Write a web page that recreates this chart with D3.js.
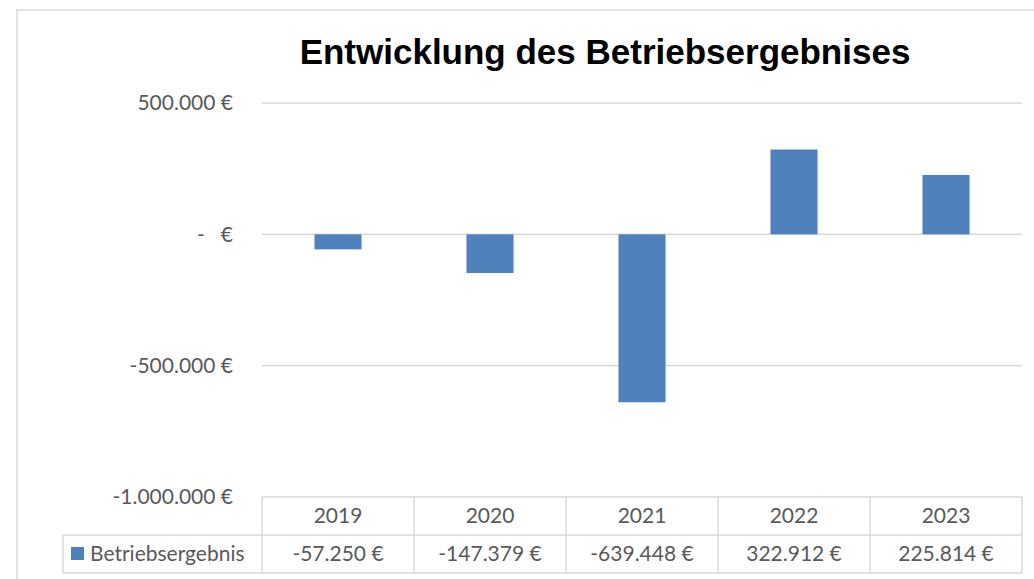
<!DOCTYPE html>
<html lang="de">
<head>
<meta charset="utf-8">
<title>Entwicklung des Betriebsergebnises</title>
<script src="https://cdn.jsdelivr.net/npm/d3@7"></script>
<style>
  body { margin: 0; background: #fff; }
  svg { display: block; }
</style>
</head>
<body>
<script>
// data
var years = ["2019", "2020", "2021", "2022", "2023"];
var values = [-57250, -147379, -639448, 322912, 225814];
var yTicks = [500000, 0, -500000, -1000000];
var seriesName = "Betriebsergebnis";

var width = 1034, height = 579;
var barColor = "#4f81bd";
var gridColor = "#d9d9d9";
var textColor = "#595959";
var font = "Lato, 'Noto Sans', sans-serif";
var fs = 21;

var de = d3.formatLocale({ decimal: ",", thousands: ".", grouping: [3], currency: ["", " €"], minus: "-" });
var fmt = de.format(",.0f");
function euro(v) { return v === 0 ? "-   €" : fmt(v) + " €"; }

var svg = d3.select("body").append("svg")
    .attr("width", width)
    .attr("height", height);

// outer chart border
svg.append("rect")
    .attr("x", 17).attr("y", 10)
    .attr("width", width).attr("height", height)
    .attr("fill", "none")
    .attr("stroke", gridColor)
    .attr("stroke-width", 1.5);

svg.append("text")
    .attr("x", 605).attr("y", 64)
    .attr("text-anchor", "middle")
    .attr("font-family", "'Liberation Sans', Arial, sans-serif")
    .attr("font-weight", "bold")
    .attr("font-size", 35)
    .attr("fill", "#000")
    .text("Entwicklung des Betriebsergebnises");

var x0 = 262, x1 = 1022;
var y = d3.scaleLinear().domain([-1000000, 500000]).range([497, 103]);
var xCell = d3.scaleBand().domain(years).range([x0, x1]);
var xBar = d3.scaleBand().domain(years).range([x0, x1]).paddingInner(0.69).paddingOuter(0.345);

// gridlines
svg.append("g").selectAll("line")
    .data(yTicks.filter(function (d) { return d !== -1000000; }))
    .join("line")
    .attr("x1", x0).attr("x2", x1)
    .attr("y1", function (d) { return y(d); })
    .attr("y2", function (d) { return y(d); })
    .attr("stroke", gridColor)
    .attr("stroke-width", 1.5);

// y labels
svg.append("g").selectAll("text")
    .data(yTicks)
    .join("text")
    .attr("x", 233)
    .attr("y", function (d) { return y(d); })
    .attr("dy", "0.35em")
    .attr("text-anchor", "end")
    .attr("font-family", font)
    .attr("font-size", fs)
    .attr("fill", textColor)
    .style("white-space", "pre")
    .text(function (d) { return euro(d); });

// bars
svg.append("g").selectAll("rect")
    .data(values)
    .join("rect")
    .attr("x", function (d, i) { return xBar(years[i]); })
    .attr("width", xBar.bandwidth())
    .attr("y", function (d) { return y(Math.max(0, d)); })
    .attr("height", function (d) { return Math.abs(y(d) - y(0)); })
    .attr("fill", barColor);

// data table
var rowTop = 497, rowMid = 535, rowBot = 573, legLeft = 63;
var tbl = svg.append("g")
    .attr("stroke", gridColor)
    .attr("stroke-width", 1.5)
    .attr("fill", "none");
tbl.append("line").attr("x1", x0).attr("x2", x1).attr("y1", rowTop).attr("y2", rowTop);
tbl.append("line").attr("x1", legLeft).attr("x2", x1).attr("y1", rowMid).attr("y2", rowMid);
tbl.append("line").attr("x1", legLeft).attr("x2", x1).attr("y1", rowBot).attr("y2", rowBot);
tbl.append("line").attr("x1", legLeft).attr("x2", legLeft).attr("y1", rowMid).attr("y2", rowBot);
tbl.selectAll("line.v")
    .data(years.concat(["end"]))
    .join("line")
    .attr("class", "v")
    .attr("x1", function (d) { return d === "end" ? x1 : xCell(d); })
    .attr("x2", function (d) { return d === "end" ? x1 : xCell(d); })
    .attr("y1", rowTop).attr("y2", rowBot);

svg.append("g").selectAll("text")
    .data(years)
    .join("text")
    .attr("x", function (d) { return xCell(d) + xCell.bandwidth() / 2; })
    .attr("y", (rowTop + rowMid) / 2)
    .attr("dy", "0.35em")
    .attr("text-anchor", "middle")
    .attr("font-family", font)
    .attr("font-size", fs)
    .attr("fill", textColor)
    .text(function (d) { return d; });

svg.append("g").selectAll("text")
    .data(values)
    .join("text")
    .attr("x", function (d, i) { return xCell(years[i]) + xCell.bandwidth() / 2; })
    .attr("y", (rowMid + rowBot) / 2)
    .attr("dy", "0.35em")
    .attr("text-anchor", "middle")
    .attr("font-family", font)
    .attr("font-size", fs)
    .attr("fill", textColor)
    .text(function (d) { return euro(d); });

// legend key
svg.append("rect")
    .attr("x", 71).attr("y", 547)
    .attr("width", 13).attr("height", 13)
    .attr("fill", barColor);
svg.append("text")
    .attr("x", 90)
    .attr("y", (rowMid + rowBot) / 2)
    .attr("dy", "0.35em")
    .attr("font-family", font)
    .attr("font-size", fs)
    .attr("fill", textColor)
    .text(seriesName);
</script>
</body>
</html>
